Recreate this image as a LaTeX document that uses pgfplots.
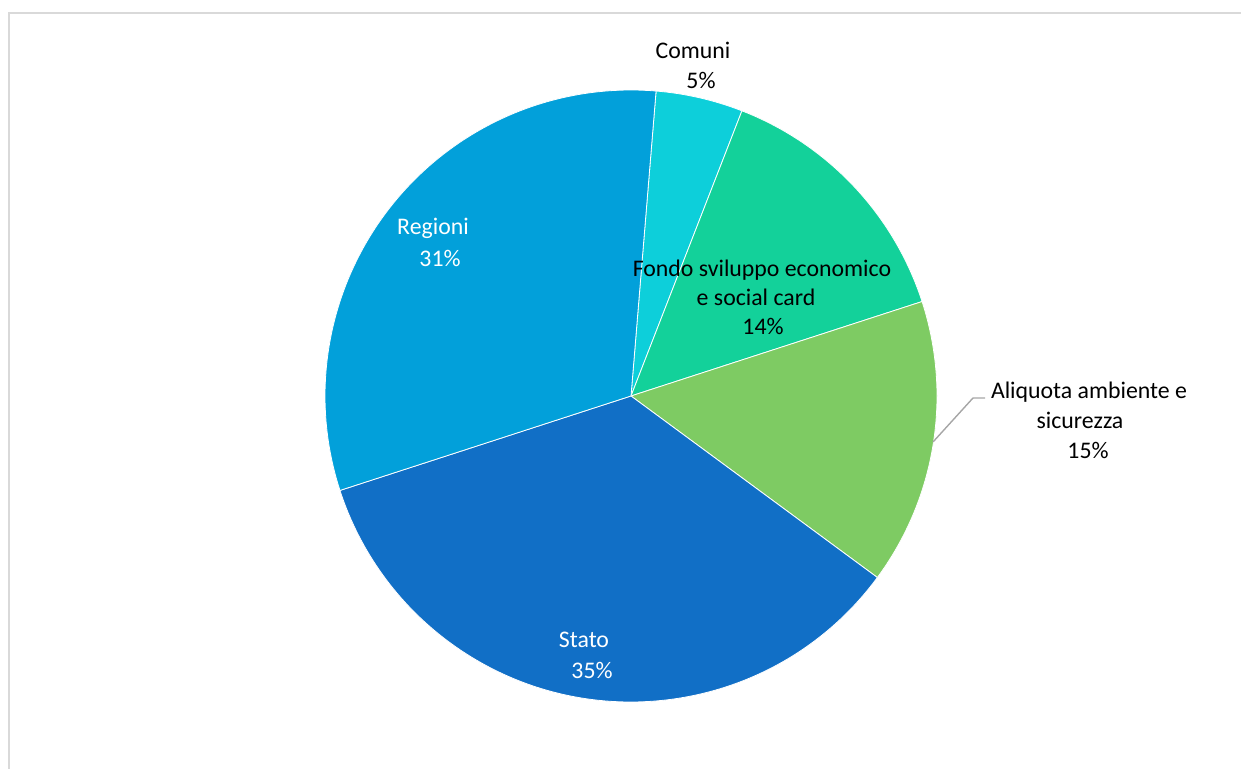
\documentclass[border=0pt]{standalone}
\usepackage{pgfplots}
\pgfplotsset{compat=1.18}
\usepackage{pgfplotstable}
\usepackage{fontspec}
\setmainfont{Carlito}
\definecolor{cComuni}{HTML}{0DCFDA}
\definecolor{cFondo}{HTML}{13D19A}
\definecolor{cAliq}{HTML}{7ECB63}
\definecolor{cStato}{HTML}{116FC6}
\definecolor{cRegioni}{HTML}{02A0DA}
\definecolor{frame}{HTML}{D9D9D9}
\definecolor{leader}{HTML}{A6A6A6}
\begin{document}
\begin{tikzpicture}
\useasboundingbox (0,0) rectangle (620.5pt,384.5pt);
\begin{axis}[at={(0,0)},anchor=south west,scale only axis,
  width=620.5pt,height=384.5pt,xmin=0,xmax=1241,ymin=0,ymax=769,
  hide axis,clip=false]
\pgfplotsextra{
  \draw[frame,line width=1pt] (axis cs:9,0) -- (axis cs:9,756) -- (axis cs:1241,756);
  \xdef\acc{85.3}
  \foreach \v/\c in {4.6/cComuni,14.1/cFondo,15.1/cAliq,34.9/cStato,31.3/cRegioni}{
    \pgfmathparse{\acc-\v*3.6}\xdef\newacc{\pgfmathresult}
    \fill[\c,draw=white,line width=0.4pt,line join=round] (axis cs:631,373) -- ++(\acc:153pt)
      arc[start angle=\acc,end angle=\newacc,radius=153pt] -- cycle;
    \xdef\acc{\newacc}
  }
  \draw[leader,line width=0.7pt] (axis cs:933,327) -- (axis cs:973,371) -- (axis cs:985,371);
  \begingroup
  \fontsize{11.9pt}{14.3pt}\selectfont
  \node[black] at (axis cs:693,719) {Comuni};
  \node[black] at (axis cs:701,689) {5\%};
  \node[black] at (axis cs:762,499) {Fondo sviluppo economico};
  \node[black] at (axis cs:756,472) {e social card};
  \node[black] at (axis cs:763,443) {14\%};
  \node[black] at (axis cs:1089,377) {Aliquota ambiente e};
  \node[black] at (axis cs:1080,349) {sicurezza};
  \node[black] at (axis cs:1088,319) {15\%};
  \node[white] at (axis cs:433,541) {Regioni};
  \node[white] at (axis cs:440,511) {31\%};
  \node[white] at (axis cs:584,129) {Stato};
  \node[white] at (axis cs:592,99) {35\%};
  \endgroup
}
\end{axis}
\end{tikzpicture}
\end{document}
